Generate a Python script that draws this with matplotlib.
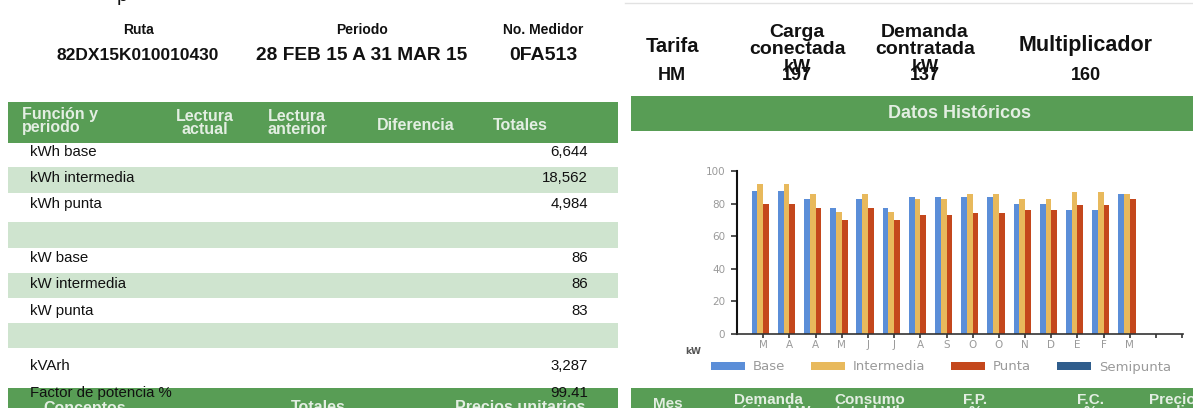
import matplotlib
matplotlib.use("Agg")
import matplotlib.pyplot as plt
import numpy as np
from matplotlib.patches import Rectangle

# ---- data ----
months = ["M", "A", "A", "M", "J", "J", "A", "S", "O", "O", "N", "D", "E", "F", "M"]
base = [88, 88, 83, 77, 83, 77, 84, 84, 84, 84, 80, 80, 76, 76, 86]
intermedia = [92, 92, 86, 75, 86, 75, 83, 83, 86, 86, 83, 83, 87, 87, 86]
punta = [80, 80, 77, 70, 77, 70, 73, 73, 74, 74, 76, 76, 79, 79, 83]
semipunta = [0] * 15
series_names = ["Base", "Intermedia", "Punta", "Semipunta"]
series_colors = ["#5b8ed8", "#e8b95c", "#c4471c", "#2f5d8c"]
yticks = [0, 20, 40, 60, 80, 100]

row_labels = ["kWh base", "kWh intermedia", "kWh punta", "", "kW base",
              "kW intermedia", "kW punta", "", "kVArh", "Factor de potencia %"]
row_totals = ["6,644", "18,562", "4,984", "", "86", "86", "83", "", "3,287", "99.41"]

info_labels = ["Ruta", "Periodo", "No. Medidor"]
info_values = ["82DX15K010010430", "28 FEB 15 A 31 MAR 15", "0FA513"]
tarifa_labels = ["Tarifa", "Carga\nconectada", "Demanda\ncontratada", "Multiplicador"]
tarifa_values = ["HM", "197", "137", "160"]

GREEN = "#589d55"
LIGHT = "#cfe4cf"
HEAD_TXT = "#e3eee2"
FONT = "Liberation Sans"
CHART_FONT = "DejaVu Sans"

W, H = 1193, 408
plt.rcParams["font.family"] = [FONT, "DejaVu Sans"]
fig = plt.figure(figsize=(W / 100, H / 100), dpi=100)


def fx(x):
    return x / W


def fy(y):
    return 1 - y / H


def box(x0, y0, x1, y1, color):
    fig.add_artist(Rectangle((fx(x0), fy(y1)), (x1 - x0) / W, (y1 - y0) / H,
                             transform=fig.transFigure, color=color, lw=0, zorder=0))


def txt(x, y, s, **kw):
    kw.setdefault("ha", "center")
    kw.setdefault("va", "center")
    fig.text(fx(x), fy(y), s, **kw)


# ---- left: header info ----
txt(122, 1, "p", fontsize=14, va="baseline", color="#111")
for x, lab, val, vs in zip([138, 362, 543], info_labels, info_values, [12.5, 13.8, 14]):
    txt(x, 30, lab, fontsize=10, fontweight="bold", color="#111")
    txt(x, 56, val, fontsize=vs, fontweight="bold", color="#111")

# ---- left: table ----
box(8, 102, 618, 143, GREEN)
hfs = 11.5
txt(22, 121, "Función y\nperiodo", ha="left", fontsize=hfs, fontweight="bold",
    color=HEAD_TXT, linespacing=0.9)
txt(205, 123, "Lectura\nactual", fontsize=hfs, fontweight="bold", color=HEAD_TXT, linespacing=0.9)
txt(297, 123, "Lectura\nanterior", fontsize=hfs, fontweight="bold", color=HEAD_TXT, linespacing=0.9)
txt(416, 126, "Diferencia", fontsize=hfs, fontweight="bold", color=HEAD_TXT)
txt(520, 126, "Totales", fontsize=hfs, fontweight="bold", color=HEAD_TXT)

row_top = [143, 167, 193, 222, 248, 273, 298, 323, 348, 375]
row_text_y = [152, 178, 204, 232, 258, 284, 311, 336, 366, 393]
for i in range(len(row_labels) - 1):
    if i % 2 == 1:
        box(8, row_top[i], 618, row_top[i + 1], LIGHT)
box(8, 388, 618, 408, GREEN)
txt(85, 408, "Conceptos", fontsize=11.5, fontweight="bold", color=HEAD_TXT)
txt(318, 408, "Totales", fontsize=11.5, fontweight="bold", color=HEAD_TXT)
txt(520, 408, "Precios unitarios", fontsize=11.5, fontweight="bold", color=HEAD_TXT)
for i, (lab, tot) in enumerate(zip(row_labels, row_totals)):
    txt(30, row_text_y[i], lab, ha="left", fontsize=10.8, color="#111")
    txt(588, row_text_y[i], tot, ha="right", fontsize=10.8, color="#111")

# ---- right: tarifa info ----
fig.add_artist(plt.Line2D([fx(625), 1], [fy(3), fy(3)], transform=fig.transFigure,
                          color="#e2e2e2", lw=1))
for x, lab, val in zip([672, 797, 925, 1086], tarifa_labels, tarifa_values):
    if "\n" in lab:
        txt(x, 41, lab, fontsize=14, fontweight="bold", color="#111", linespacing=0.95)
        txt(x, 67, "kW", fontsize=13, fontweight="bold", color="#111")
        txt(x, 75, val, fontsize=13, fontweight="bold", color="#111")
    else:
        fs = 15.5 if lab == "Multiplicador" else 14.5
        txt(x, 46, lab, fontsize=fs, fontweight="bold", color="#111")
        txt(x, 76, val, fontsize=13, fontweight="bold", color="#111")

box(631, 96, W, 131, GREEN)
txt(960, 113, "Datos Históricos", fontsize=13, fontweight="bold", color=HEAD_TXT)

box(631, 388, W, 408, GREEN)
for x, s in zip([668, 768, 870, 975, 1090, 1172],
                ["Mes", "Demanda\nmáxima kW", "Consumo\ntotal kWh", "F.P.\n%", "F.C.\n%", "Precio\nmedio"]):
    if "\n" in s:
        txt(x, 406, s, fontsize=11, fontweight="bold", color=HEAD_TXT, linespacing=0.9)
    else:
        txt(x, 404, s, fontsize=11, fontweight="bold", color=HEAD_TXT)

# ---- right: bar chart ----
ax = fig.add_axes([fx(737), fy(334), (1183 - 737) / W, (334 - 171) / H])
x = np.arange(len(months))
bw = 0.22
handles = []
for k, (vals, c) in enumerate(zip([base, intermedia, punta, semipunta], series_colors)):
    b = ax.bar(x + (k - 1.5) * bw, vals, bw, color=c, linewidth=0)
    handles.append(b)

ax.set_xlim(-1, 16.03)
ax.set_ylim(0, 100)
ax.set_yticks(yticks)
ax.set_xticks(np.arange(len(months) + 2))
ax.set_xticklabels(months + ["", ""])
ax.tick_params(axis="y", length=4.5, width=1.2, color="#333", labelsize=7.5,
               labelcolor="#9a9a9a", pad=4)
ax.tick_params(axis="x", length=3, width=1.2, color="#333", labelsize=7.5,
               labelcolor="#9a9a9a", pad=1)
for lbl in ax.get_xticklabels() + ax.get_yticklabels():
    lbl.set_fontfamily(CHART_FONT)
for side in ["top", "right"]:
    ax.spines[side].set_visible(False)
ax.spines["left"].set_linewidth(1.5)
ax.spines["left"].set_color("#111")
ax.spines["bottom"].set_linewidth(1.2)
ax.spines["bottom"].set_color("#333")

txt(693, 351, "kW", fontsize=6.5, fontweight="bold", color="#555", family=CHART_FONT)

ax.legend(handles, series_names, ncol=4, loc="center left",
          bbox_to_anchor=(fx(711), fy(367)), bbox_transform=fig.transFigure,
          frameon=False, prop={"family": CHART_FONT, "size": 9.5},
          labelcolor="#9a9a9a", handlelength=2.58, handleheight=0.55,
          handletextpad=0.6, columnspacing=1.95, borderpad=0, borderaxespad=0)

fig.savefig("out.png", dpi=100)
